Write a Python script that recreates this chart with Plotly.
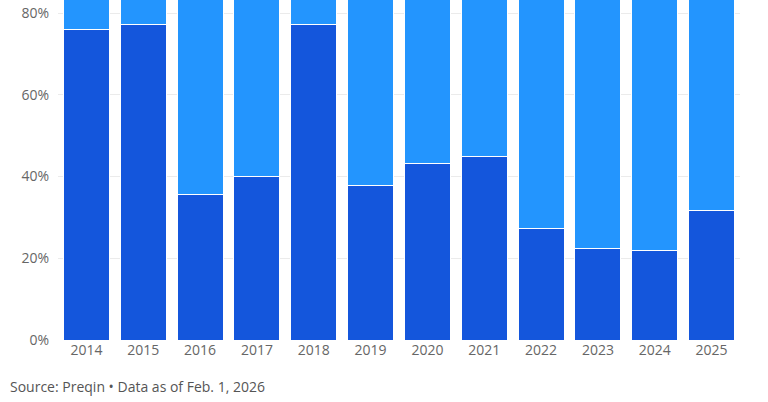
import plotly.graph_objects as go

years = ["2014", "2015", "2016", "2017", "2018", "2019", "2020", "2021", "2022", "2023", "2024", "2025"]
dark_share = [76.1, 77.1, 35.7, 39.9, 77.1, 37.7, 43.1, 44.8, 27.4, 22.3, 22.0, 31.8]
light_share = [round(100 - v, 1) for v in dark_share]
y_ticks = [0, 20, 40, 60, 80]
y_tick_labels = ["0%", "20%", "40%", "60%", "80%"]

DARK = "#1456DC"
LIGHT = "#2395FE"

fig = go.Figure()
fig.add_trace(go.Bar(x=years, y=dark_share, marker=dict(color=DARK, line=dict(color="white", width=1)),
                     showlegend=False, hoverinfo="skip"))
fig.add_trace(go.Bar(x=years, y=light_share, marker=dict(color=LIGHT, line=dict(color="white", width=1)),
                     showlegend=False, hoverinfo="skip"))

fig.update_layout(
    barmode="stack",
    bargap=0.19,
    width=768, height=402,
    margin=dict(l=58, r=28, t=0, b=62),
    plot_bgcolor="white", paper_bgcolor="white",
    font=dict(family="Open Sans", size=14, color="#666666"),
    xaxis=dict(showgrid=False, showline=False, ticks="", tickfont=dict(size=14, color="#666666")),
    yaxis=dict(range=[0, 83.2], tickvals=y_ticks, ticktext=y_tick_labels, showgrid=True,
               gridcolor="#ebebeb", gridwidth=1, zeroline=False, ticks="", ticklabelstandoff=8,
               tickfont=dict(size=14, color="#666666")),
    annotations=[dict(text="Source: Preqin • Data as of Feb. 1, 2026", xref="paper", yref="paper",
                      x=-50/682, y=-46/340, xanchor="left", yanchor="middle", showarrow=False,
                      font=dict(size=14, color="#555555"))],
)

fig.write_html("out.html", config={"displayModeBar": False},
               post_script="document.body.style.margin='0';")
